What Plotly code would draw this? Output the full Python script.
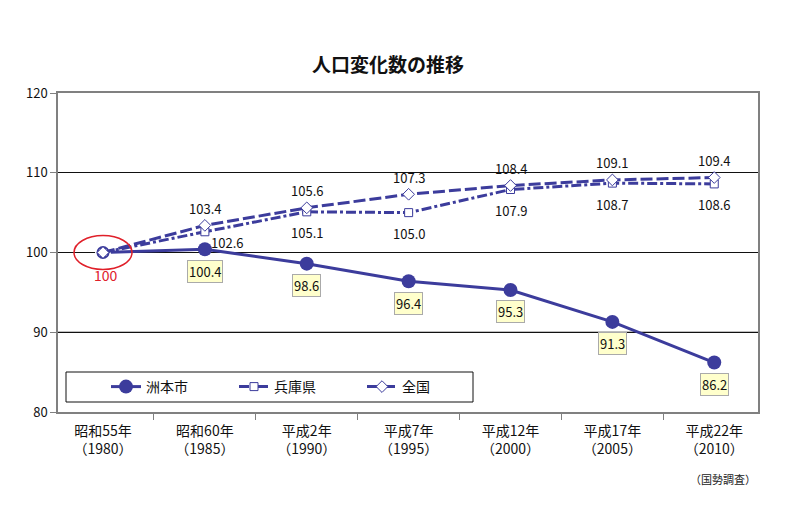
import plotly.graph_objects as go

categories = ["昭和55年<br>（1980）", "昭和60年<br>（1985）", "平成2年<br>（1990）", "平成7年<br>（1995）",
              "平成12年<br>（2000）", "平成17年<br>（2005）", "平成22年<br>（2010）"]
sumoto = [100, 100.4, 98.6, 96.4, 95.3, 91.3, 86.2]
hyogo = [100, 102.6, 105.1, 105.0, 107.9, 108.7, 108.6]
zenkoku = [100, 103.4, 105.6, 107.3, 108.4, 109.1, 109.4]
series_names = ["洲本市", "兵庫県", "全国"]
y_ticks = [80, 90, 100, 110, 120]

BLUE = "#3c3c9c"
RED = "#e0202a"
FONT = "Noto Sans CJK JP"

# page body has an 8px default margin: size the figure so the plot lands where the reference has it
OFF = 8
W, H = 789 - OFF, 526 - OFF
ML, MR, MT, MB = 58 - OFF, 31, 93 - OFF, 114
PW, PH = W - ML - MR, H - MT - MB

n = len(categories)
fig = go.Figure()

fig.add_trace(go.Scatter(
    x=categories, y=sumoto, name=series_names[0], mode="lines+markers",
    line=dict(color=BLUE, width=3),
    marker=dict(symbol="circle", size=14, color=BLUE),
))
# first point drawn as an open ring (covers the filled dot)
fig.add_trace(go.Scatter(
    x=categories[:1], y=sumoto[:1], mode="markers", showlegend=False, hoverinfo="skip",
    marker=dict(symbol="circle", size=16, color="white"),
))
fig.add_trace(go.Scatter(
    x=categories[:1], y=sumoto[:1], mode="markers", showlegend=False, hoverinfo="skip",
    marker=dict(symbol="circle", size=11, color="white", line=dict(color=BLUE, width=2)),
))
fig.add_trace(go.Scatter(
    x=categories, y=hyogo, name=series_names[1], mode="lines+markers",
    line=dict(color=BLUE, width=3, dash="10px,3px,3px,3px"),
    marker=dict(symbol="square", size=8, color="white", line=dict(color=BLUE, width=1)),
))
fig.add_trace(go.Scatter(
    x=categories, y=zenkoku, name=series_names[2], mode="lines+markers",
    line=dict(color=BLUE, width=3, dash="12px,4px"),
    marker=dict(symbol="diamond", size=9, color="white", line=dict(color=BLUE, width=1)),
))

annotations = []
for i in range(1, n):
    annotations.append(dict(
        x=categories[i], y=sumoto[i], text=f"{sumoto[i]:.1f}", showarrow=False,
        yshift=-22, font=dict(size=13, color="#111", family=FONT),
        bgcolor="#ffffcc", bordercolor="#aaaaaa", borderwidth=1, borderpad=1,
    ))
for i in range(1, n):
    dx, dy = (22, -11) if i == 1 else (0, -21)
    annotations.append(dict(
        x=categories[i], y=hyogo[i], text=f"{hyogo[i]:.1f}", showarrow=False,
        xshift=dx, yshift=dy, font=dict(size=13, color="#111", family=FONT),
    ))
for i in range(1, n):
    annotations.append(dict(
        x=categories[i], y=zenkoku[i], text=f"{zenkoku[i]:.1f}", showarrow=False,
        yshift=17, font=dict(size=13, color="#111", family=FONT),
    ))
annotations.append(dict(
    x=categories[0], y=sumoto[0], text=f"{sumoto[0]:g}", showarrow=False,
    xshift=3, yshift=-22, font=dict(size=14, color=RED, family=FONT),
))
annotations.append(dict(
    x=1, y=-(479 - 412) / PH, xref="paper", yref="paper", xanchor="right", yanchor="middle",
    text="（国勢調査）", showarrow=False, font=dict(size=11, color="#222", family=FONT),
))

shapes = [
    dict(type="circle", xref="x", yref="y", xsizemode="pixel", ysizemode="pixel",
         xanchor=0, yanchor=sumoto[0], x0=-29, x1=29, y0=-17, y1=17,
         line=dict(color=RED, width=1.5)),
    dict(type="line", xref="paper", yref="y", x0=0, x1=1, y0=90, y1=90,
         line=dict(color="#808080", width=1.5), layer="between"),
    # legend frame
    dict(type="rect", xref="paper", yref="paper",
         x0=(66 - 58) / PW, x1=(473 - 58) / PW, y0=(412 - 402) / PH, y1=(412 - 372) / PH,
         line=dict(color="#111", width=1), fillcolor="white", layer="between"),
]

fig.update_layout(
    width=W, height=H,
    margin=dict(l=ML, r=MR, t=MT, b=MB),
    paper_bgcolor="white", plot_bgcolor="white",
    font=dict(family=FONT, color="#111", size=13),
    title=dict(text="<b>人口変化数の推移</b>", x=(388 - OFF) / W, xref="container", xanchor="center",
               y=1 - (65 - OFF) / H, yref="container", yanchor="middle",
               font=dict(size=19, color="#111", family=FONT)),
    showlegend=True,
    legend=dict(orientation="h", x=(106 - 58) / PW, xanchor="left", y=(412 - 387) / PH, yanchor="middle",
                borderwidth=0, bgcolor="rgba(0,0,0,0)",
                font=dict(size=14, family=FONT), entrywidth=83, entrywidthmode="pixels",
                itemclick=False),
    annotations=annotations,
    shapes=shapes,
)
fig.update_xaxes(type="category", tickson="boundaries", ticks="outside", ticklen=6,
                 tickcolor="#808080", showline=True, linecolor="#808080", linewidth=1.5,
                 mirror=True, showgrid=False, ticklabelstandoff=5,
                 tickfont=dict(size=14, family=FONT, color="#111"))
fig.update_yaxes(range=[80, 120], tickvals=y_ticks, ticks="outside", ticklen=6,
                 tickcolor="#808080", showline=True, linecolor="#808080", linewidth=1.5,
                 mirror=True, showgrid=True, gridcolor="#111", gridwidth=1.2, zeroline=False,
                 tickfont=dict(size=13, family=FONT, color="#111"))

fig.write_html("out.html")
